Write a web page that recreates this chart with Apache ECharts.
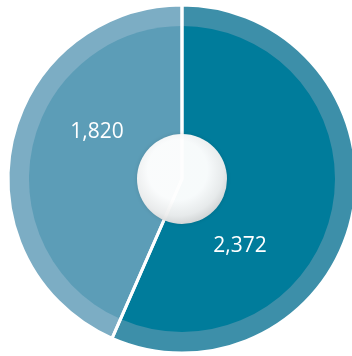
<!DOCTYPE html>
<html>
<head>
<meta charset="utf-8">
<style>
  html, body { margin: 0; padding: 0; background: #fff; }
  #main { width: 352px; height: 356px; }
</style>
<script src="https://cdn.jsdelivr.net/npm/echarts@6/dist/echarts.min.js"></script>
</head>
<body>
<div id="main"></div>
<script>
// data
var categories = ['A', 'B'];
var values = [2372, 1820];

var mainColors = ['#007c9b', '#5c9db7'];
var bandColors = ['#3d8fa9', '#7cadc4'];

// label nudges (pixels) from the default inside position
var labelShift = [[-30, 49], [3, -29]];

function makeData(colors) {
    return categories.map(function (c, i) {
        return { name: c, value: values[i], itemStyle: { color: colors[i] } };
    });
}

var center = [182, 179];

var chart = echarts.init(document.getElementById('main'));
chart.setOption({
    animation: false,
    series: [
        {
            // outer lighter band
            type: 'pie',
            center: center,
            radius: [0, 174],
            startAngle: 90,
            silent: true,
            label: { show: false },
            labelLine: { show: false },
            data: makeData(bandColors)
        },
        {
            // main slices
            type: 'pie',
            center: center,
            radius: [0, 153],
            startAngle: 90,
            silent: true,
            label: { show: false },
            labelLine: { show: false },
            data: makeData(mainColors)
        },
        {
            // white separators + value labels
            type: 'pie',
            center: center,
            radius: [0, 174],
            startAngle: 90,
            silent: true,
            itemStyle: { color: 'rgba(0,0,0,0)', borderColor: '#fff', borderWidth: 3 },
            label: {
                show: true,
                position: 'inside',
                color: '#fff',
                fontFamily: 'Open Sans',
                fontSize: 21,
                formatter: function (p) {
                    return p.value.toLocaleString('en-US');
                }
            },
            labelLine: { show: false },
            labelLayout: function (p) {
                var s = labelShift[p.dataIndex];
                return { dx: s[0], dy: s[1] };
            },
            data: categories.map(function (c, i) {
                return { name: c, value: values[i] };
            })
        },
        {
            // centre disc
            type: 'pie',
            center: center,
            radius: [0, 45],
            silent: true,
            z: 5,
            label: { show: false },
            labelLine: { show: false },
            itemStyle: {
                opacity: 0.97,
                color: new echarts.graphic.RadialGradient(0.45, 0.4, 0.6, [
                    { offset: 0, color: '#ffffff' },
                    { offset: 0.55, color: '#ffffff' },
                    { offset: 0.85, color: '#eeeeee' },
                    { offset: 1, color: '#dadada' }
                ]),
                shadowBlur: 4,
                shadowColor: 'rgba(0,0,0,0.12)'
            },
            data: [{ value: 1 }]
        }
    ]
});
window.addEventListener('resize', function () {
    chart.resize();
});
</script>
</body>
</html>
